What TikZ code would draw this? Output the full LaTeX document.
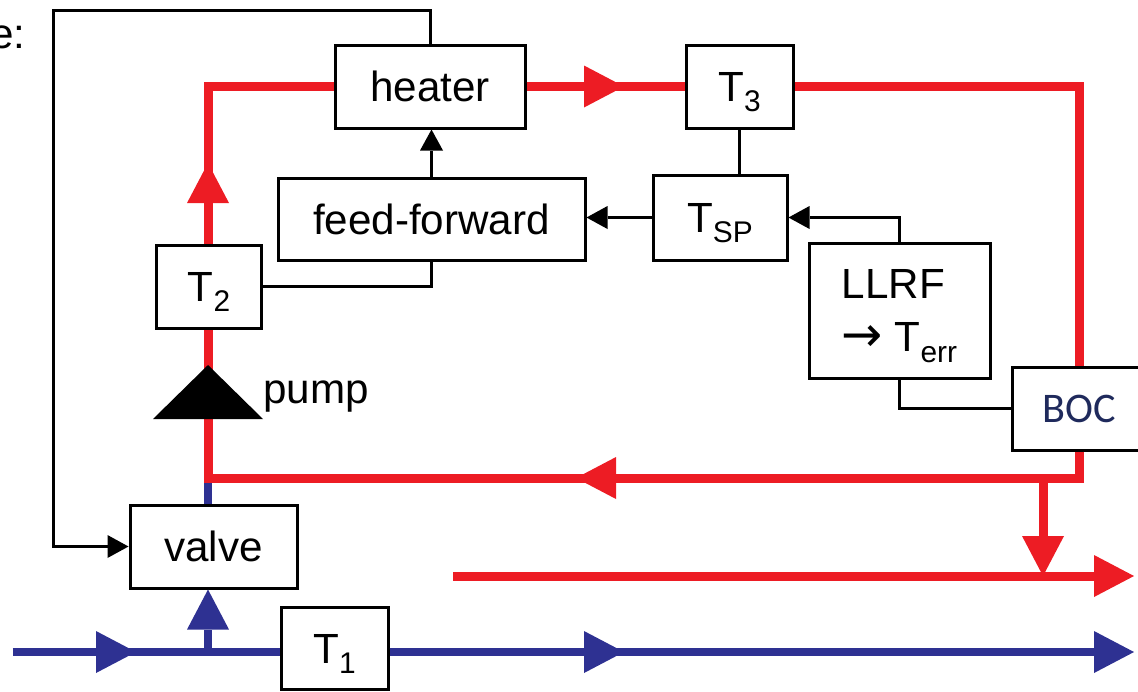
\documentclass[tikz,border=0pt]{standalone}
\usepackage{fontspec}
\setmainfont{Liberation Sans}
\newfontfamily\bocfont{Carlito}
\newfontfamily\arrowfont{DejaVu Sans}
\usetikzlibrary{arrows.meta,calc,positioning}
\definecolor{pipered}{RGB}{237,28,36}
\definecolor{pipeblue}{RGB}{46,49,146}
\definecolor{bocblue}{RGB}{31,42,92}
\newcommand{\lowsub}[1]{\smash{\raisebox{-0.26em}{\fontsize{17}{17}\selectfont #1}}}
\tikzset{
  block/.style={draw=black, fill=white, line width=0.06cm, inner sep=0pt, align=center, font=\fontsize{24}{30}\selectfont},
  hot/.style={draw=pipered, line width=0.18cm},
  cold/.style={draw=pipeblue, line width=0.16cm},
  flow/.style={-{Triangle[length=8mm, width=8.4mm, line width=0pt]}},
  wire/.style={draw=black, line width=0.06cm},
  sig/.style={wire, -{Triangle[length=4.2mm, width=4.6mm, line width=0pt]}}
}

\begin{document}
\begin{tikzpicture}
  \useasboundingbox (0,0) rectangle (22.76,-13.82);

  \node[anchor=base east, inner sep=0pt, font=\fontsize{24}{30}\selectfont] (lbl) at (0.52,-0.97) {e:};

  \node[block, minimum width=3.8cm, minimum height=1.66cm] (heater) at (8.6,-1.73) {heater};
  \node[block, minimum width=2.14cm, minimum height=1.66cm] (T3) at (14.79,-1.73) {T\lowsub{3}};
  \node[block, minimum width=6.14cm, minimum height=1.64cm] (ff) at (8.63,-4.38) {feed-forward};
  \node[block, minimum width=2.68cm, minimum height=1.7cm] (TSP) at (14.4,-4.35) {T\lowsub{SP}};
  \node[block, minimum width=3.62cm, minimum height=2.7cm, align=left] (llrf) at (17.99,-6.21) {LLRF\\{\arrowfont\fontsize{28}{30}\selectfont →} T\lowsub{err}};
  \node[block, minimum width=2.66cm, minimum height=1.66cm, font=\bocfont\fontsize{24}{28}\selectfont, text=bocblue] (boc) at (21.58,-8.17) {BOC};
  \node[block, minimum width=2.1cm, minimum height=1.66cm] (T2) at (4.18,-5.73) {T\lowsub{2}};
  \node[block, minimum width=3.34cm, minimum height=1.66cm] (valve) at (4.27,-10.93) {valve};
  \node[block, minimum width=2.14cm, minimum height=1.64cm] (T1) at (6.69,-12.97) {T\lowsub{1}};

  \coordinate (jL) at (4.16,-9.56);
  \coordinate (a1) at (12.48,-1.73);
  \coordinate (a2) at (4.16,-3.26);
  \coordinate (a3) at (11.52,-9.56);
  \coordinate (tap) at (20.86,-9.56);
  \coordinate (hotin) at (9.06,-11.52);
  \coordinate (hotout) at (22.68,-11.52);
  \coordinate (cin) at (0.26,-13.04);
  \coordinate (b1) at (2.72,-13.04);
  \coordinate (bj) at (4.16,-13.04);
  \coordinate (b2) at (12.48,-13.04);
  \coordinate (cout) at (22.68,-13.04);
  \coordinate (ctl) at (1.06,-0.2);

  % cold water
  \draw[cold] (cin) -- (cin -| T1.west);
  \draw[cold, flow] (cin) -- (b1);
  \draw[cold, flow] (cout -| T1.east) -- (cout);
  \draw[cold, flow] (cout -| T1.east) -- (b2);
  \draw[cold, flow] (bj) -- (bj |- valve.south);
  \draw[cold] (jL |- valve.north) -- (jL);

  % hot loop
  \draw[hot] (heater.east) -- (T3.west);
  \draw[hot, flow] (heater.east) -- (a1);
  \draw[hot] (T3.east) -| (boc.north);
  \draw[hot] (boc.south) |- (jL) -- (jL |- T2.south);
  \draw[hot, flow] (tap) -- (a3);
  \draw[hot] (jL |- T2.north) |- (heater.west);
  \draw[hot, flow] (jL |- T2.north) -- (a2);
  \draw[hot, flow] (tap) -- (tap |- hotin);
  \draw[hot, flow] (hotin) -- (hotout);

  % pump
  \fill (3.06,-8.38) -- (4.16,-7.3) -- (5.26,-8.38) -- cycle;
  \node[anchor=base west, inner sep=0pt, font=\fontsize{24}{30}\selectfont] (pump) at (5.26,-8.06) {pump};

  % control signals
  \draw[sig] (heater.north) |- (ctl) |- (valve.west);
  \draw[sig] (ff.north) -- (ff.north |- heater.south);
  \draw[wire] (T3.south) -- (T3.south |- TSP.north);
  \draw[sig] (TSP.west) -- (TSP.west -| ff.east);
  \draw[sig] (llrf.north) |- (TSP.east);
  \draw[wire] (llrf.south) |- (boc.west);
  \draw[wire] (T2.east) -| (ff.south);
\end{tikzpicture}
\end{document}
